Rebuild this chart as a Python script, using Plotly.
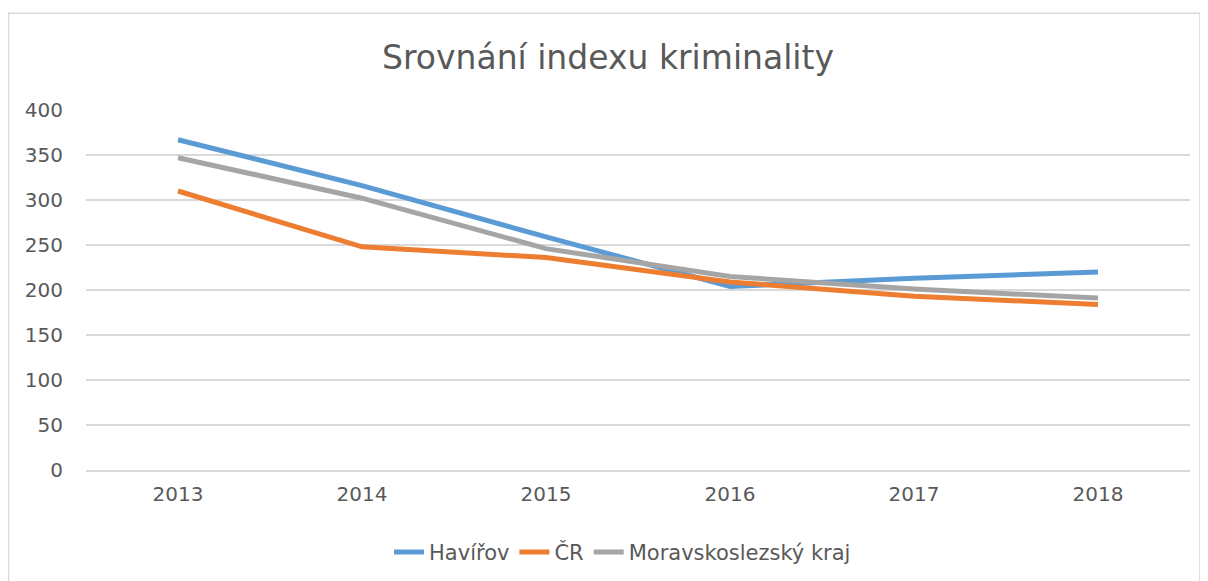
import plotly.graph_objects as go

# ── Data ──────────────────────────────────────────────────────────────────────
YEARS = ["2013", "2014", "2015", "2016", "2017", "2018"]
HAVIROV = [367, 316, 259, 204, 213, 220]
CR = [310, 248, 236, 209, 193, 184]
MSK = [347, 302, 246, 215, 201, 191]

# ── Styling ───────────────────────────────────────────────────────────────────
BLUE = "#5B9BD5"
ORANGE = "#ED7D31"
GRAY = "#A5A5A5"
TEXT = "#595959"
GRID = "#D9D9D9"
FONT = "'DejaVu Sans', sans-serif"

fig = go.Figure()
for name, vals, color in [
    ("Havířov", HAVIROV, BLUE),
    ("ČR", CR, ORANGE),
    ("Moravskoslezský kraj", MSK, GRAY),
]:
    fig.add_trace(go.Scatter(
        x=YEARS, y=vals, name=name, mode="lines",
        line=dict(color=color, width=5),
    ))

# page body adds an 8px offset, so the figure is 8px smaller than the window
fig.update_layout(
    width=1200, height=573,
    paper_bgcolor="white", plot_bgcolor="white",
    font=dict(family=FONT, color=TEXT, size=20),
    title=dict(
        text="Srovnání indexu kriminality",
        x=0.5, xanchor="center", y=0.914, yanchor="middle",
        font=dict(size=33, color=TEXT),
    ),
    margin=dict(l=78, r=18, t=102, b=111),
    showlegend=True,
    legend=dict(
        orientation="h", x=0.486, xanchor="center",
        yref="container", y=0.05, yanchor="middle",
        font=dict(size=21, color=TEXT), tracegroupgap=0,
    ),
    shapes=[dict(
        type="rect", xref="paper", yref="paper",
        x0=-0.0702, x1=1.009, y0=-0.4, y1=1.269,
        line=dict(color=GRID, width=1.5),
    )],
)
fig.update_xaxes(
    type="category", range=[-0.5, 5.5], showgrid=False,
    showline=True, linecolor=GRID, linewidth=1.5, zeroline=False,
    ticks="", ticklabelstandoff=5, fixedrange=True, automargin=False,
)
fig.update_yaxes(
    range=[0, 400], dtick=50, showgrid=True, gridcolor=GRID, gridwidth=1.5,
    zeroline=False, showline=False, ticks="", ticklabelstandoff=22,
    fixedrange=True, automargin=False,
)

fig.write_html("out.html")
